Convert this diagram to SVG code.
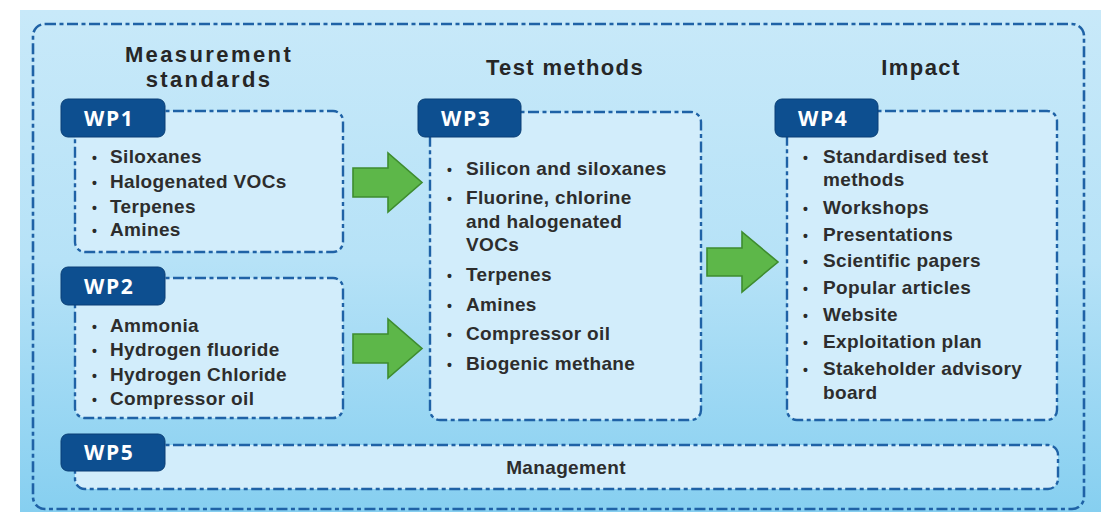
<svg xmlns="http://www.w3.org/2000/svg" width="1101" height="512" viewBox="0 0 1101 512">
<defs>
<linearGradient id="bg" x1="0" y1="0" x2="0" y2="1">
<stop offset="0" stop-color="#c8e9f9"/>
<stop offset="0.5" stop-color="#b6e2f7"/>
<stop offset="1" stop-color="#86cff0"/>
</linearGradient>
<style>
.dash{fill:none;stroke:#1f62a6;stroke-width:2.6;stroke-dasharray:11 3.5 4 3.5}
.box{fill:#d2edfb;stroke:#1f62a6;stroke-width:2.4;stroke-dasharray:11 3.5 4 3.5}
.tab{fill:#0d4f90;stroke:#0a3f76;stroke-width:1}
.tabt{font-family:"Open Sans","Liberation Sans",sans-serif;font-weight:700;font-size:21px;fill:#ffffff;letter-spacing:1.6px}
.hd{font-family:"Liberation Sans",sans-serif;font-weight:700;font-size:22px;fill:#262626;text-anchor:middle}
.it{font-family:"Liberation Sans",sans-serif;font-weight:700;font-size:19px;fill:#2d2d2d;letter-spacing:0.35px}
.bu{font-family:"Liberation Sans",sans-serif;font-weight:700;font-size:14px;fill:#2a2a2a}
.arr{fill:#5db749;stroke:#3e8c2f;stroke-width:1.6;stroke-linejoin:miter}
</style>
</defs>
<rect x="0" y="0" width="1101" height="512" fill="#ffffff"/>
<rect x="20" y="10" width="1081" height="502" fill="url(#bg)"/>
<rect class="dash" x="33" y="24" width="1051" height="485" rx="12"/>

<g id="headers">
<text class="hd" x="209" y="62" letter-spacing="2.4">Measurement</text>
<text class="hd" x="209" y="87" letter-spacing="2.4">standards</text>
<text class="hd" x="565" y="75" letter-spacing="1.4">Test methods</text>
<text class="hd" x="921" y="75" letter-spacing="1.4">Impact</text>
</g>

<g id="wp1">
<rect class="box" x="75" y="111" width="268" height="141" rx="10"/>
<rect class="tab" x="61" y="99" width="104" height="38" rx="7"/>
<text class="tabt" x="84" y="126">WP1</text>
<text class="bu" x="92" y="163">•</text><text class="it" x="110" y="163">Siloxanes</text>
<text class="bu" x="92" y="188">•</text><text class="it" x="110" y="188">Halogenated VOCs</text>
<text class="bu" x="92" y="213">•</text><text class="it" x="110" y="213">Terpenes</text>
<text class="bu" x="92" y="236">•</text><text class="it" x="110" y="236">Amines</text>
</g>

<g id="wp2">
<rect class="box" x="75" y="278" width="268" height="140" rx="10"/>
<rect class="tab" x="61" y="267" width="104" height="38" rx="7"/>
<text class="tabt" x="84" y="294">WP2</text>
<text class="bu" x="92" y="332">•</text><text class="it" x="110" y="332">Ammonia</text>
<text class="bu" x="92" y="356">•</text><text class="it" x="110" y="356">Hydrogen fluoride</text>
<text class="bu" x="92" y="381">•</text><text class="it" x="110" y="381">Hydrogen Chloride</text>
<text class="bu" x="92" y="405">•</text><text class="it" x="110" y="405">Compressor oil</text>
</g>

<g id="wp3">
<rect class="box" x="430" y="112" width="271" height="308" rx="10"/>
<rect class="tab" x="418" y="99" width="103" height="38" rx="7"/>
<text class="tabt" x="441" y="126">WP3</text>
<text class="bu" x="447" y="175">•</text><text class="it" x="466" y="175">Silicon and siloxanes</text>
<text class="bu" x="447" y="204">•</text><text class="it" x="466" y="204">Fluorine, chlorine</text>
<text class="it" x="466" y="228">and halogenated</text>
<text class="it" x="466" y="251">VOCs</text>
<text class="bu" x="447" y="281">•</text><text class="it" x="466" y="281">Terpenes</text>
<text class="bu" x="447" y="311">•</text><text class="it" x="466" y="311">Amines</text>
<text class="bu" x="447" y="340">•</text><text class="it" x="466" y="340">Compressor oil</text>
<text class="bu" x="447" y="370">•</text><text class="it" x="466" y="370">Biogenic methane</text>
</g>

<g id="wp4">
<rect class="box" x="787" y="111" width="270" height="309" rx="10"/>
<rect class="tab" x="775" y="99" width="103" height="38" rx="7"/>
<text class="tabt" x="798" y="126">WP4</text>
<text class="bu" x="803" y="163">•</text><text class="it" x="823" y="163">Standardised test</text>
<text class="it" x="823" y="186">methods</text>
<text class="bu" x="803" y="214">•</text><text class="it" x="823" y="214">Workshops</text>
<text class="bu" x="803" y="241">•</text><text class="it" x="823" y="241">Presentations</text>
<text class="bu" x="803" y="267">•</text><text class="it" x="823" y="267">Scientific papers</text>
<text class="bu" x="803" y="294">•</text><text class="it" x="823" y="294">Popular articles</text>
<text class="bu" x="803" y="321">•</text><text class="it" x="823" y="321">Website</text>
<text class="bu" x="803" y="348">•</text><text class="it" x="823" y="348">Exploitation plan</text>
<text class="bu" x="803" y="375">•</text><text class="it" x="823" y="375">Stakeholder advisory</text>
<text class="it" x="823" y="399">board</text>
</g>

<g id="wp5">
<rect class="box" x="75" y="445" width="983" height="44" rx="10"/>
<rect class="tab" x="61" y="434" width="104" height="37" rx="7"/>
<text class="tabt" x="84" y="460">WP5</text>
<text class="it" x="566" y="474" text-anchor="middle">Management</text>
</g>

<g id="connectors">
<path class="arr" d="M353,168 H388 V153 L422,182.5 L388,212 V197 H353 Z"/>
<path class="arr" d="M353,334 H388 V319 L422,348.5 L388,378 V363 H353 Z"/>
<path class="arr" d="M707,248 H742 V232 L778,262 L742,292 V276 H707 Z"/>
</g>
</svg>
